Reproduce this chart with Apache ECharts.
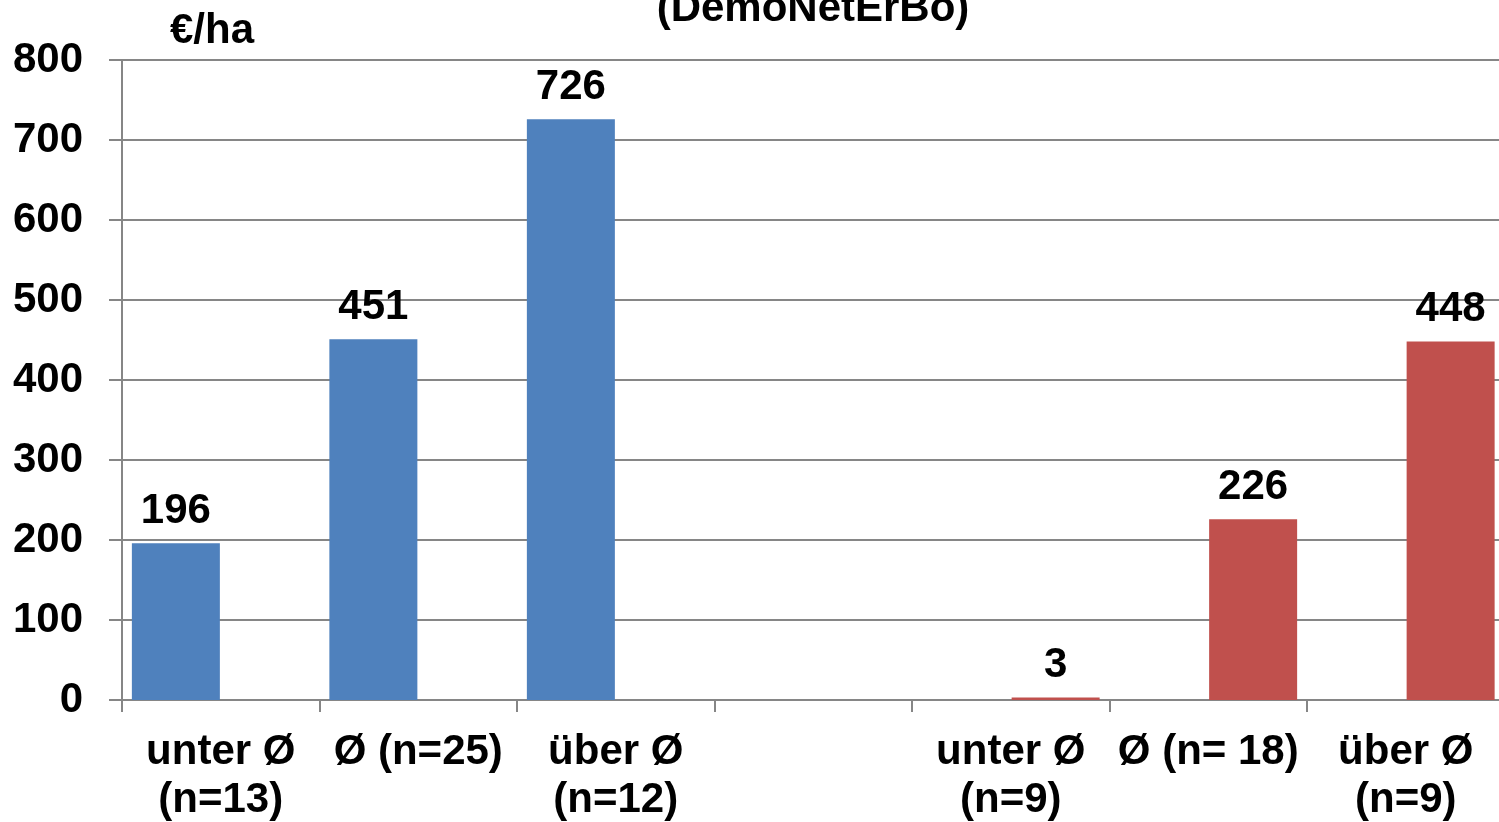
<!DOCTYPE html>
<html>
<head>
<meta charset="utf-8">
<script src="https://cdn.jsdelivr.net/npm/echarts@6/dist/echarts.min.js"></script>
<style>
  html, body { margin: 0; padding: 0; background: #fff; overflow: hidden; }
  #chart { width: 1499px; height: 822px; }
</style>
</head>
<body>
<div id="chart"></div>
<script>
// Categories: three groups per farm type, with an empty spacer in between
const categories = ['unter Ø\n(n=13)', 'Ø (n=25)', 'über Ø\n(n=12)', '', 'unter Ø\n(n=9)', 'Ø (n= 18)', 'über Ø\n(n=9)'];
const blueValues = [196, 451, 726, '-', '-', '-', '-'];
const redValues = ['-', '-', '-', '-', 3, 226, 448];
const yTicks = { min: 0, max: 800, interval: 100 };
const titleText = '(DemoNetErBo)';
const unitText = '€/ha';

const FONT = '"Liberation Sans", Arial, sans-serif';
const FS = 42;
const GRAY = '#868686';

const chart = echarts.init(document.getElementById('chart'), null, { renderer: 'canvas' });

const labelStyle = {
  show: true,
  position: 'top',
  distance: 11,
  fontFamily: FONT,
  fontWeight: 'bold',
  fontSize: FS,
  color: '#000'
};

chart.setOption({
  animation: false,
  backgroundColor: '#fff',
  title: {
    text: titleText,
    left: 808,
    top: -17,
    textAlign: 'center',
    textStyle: { fontFamily: FONT, fontWeight: 'bold', fontSize: FS, color: '#000' }
  },
  graphic: [{
    type: 'text',
    left: 170,
    top: 10,
    style: { text: unitText, font: 'bold ' + FS + 'px ' + FONT, fill: '#000' }
  }],
  // the plot runs slightly past the right edge; keep the grid exactly where it is placed
  grid: { left: 122, top: 60, width: 1382.5, height: 640, containLabel: false, outerBoundsMode: 'none' },
  xAxis: {
    type: 'category',
    data: categories,
    axisLine: { show: true, lineStyle: { color: GRAY, width: 2 } },
    axisTick: { show: true, length: 12, lineStyle: { color: GRAY, width: 2 } },
    axisLabel: {
      interval: 0,
      margin: 28,
      fontFamily: FONT,
      fontWeight: 'bold',
      fontSize: FS,
      lineHeight: 48,
      color: '#000'
    },
    splitLine: { show: false }
  },
  yAxis: {
    type: 'value',
    min: yTicks.min,
    max: yTicks.max,
    interval: yTicks.interval,
    axisLine: { show: true, lineStyle: { color: GRAY, width: 2 } },
    axisTick: { show: true, length: 13, lineStyle: { color: GRAY, width: 2 } },
    axisLabel: {
      margin: 39,
      fontFamily: FONT,
      fontWeight: 'bold',
      fontSize: FS,
      color: '#000'
    },
    splitLine: { show: true, lineStyle: { color: GRAY, width: 2 } }
  },
  series: [
    {
      type: 'bar',
      data: blueValues,
      barWidth: 88,
      barGap: '2%',
      itemStyle: { color: '#4F81BD' },
      label: labelStyle
    },
    {
      type: 'bar',
      data: redValues,
      barWidth: 88,
      itemStyle: { color: '#C0504D' },
      label: labelStyle
    }
  ]
});
</script>
</body>
</html>
